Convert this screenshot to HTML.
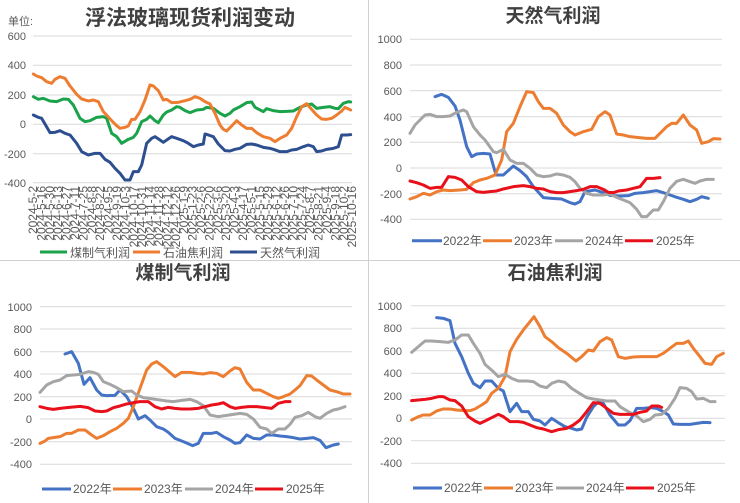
<!DOCTYPE html>
<html><head><meta charset="utf-8"><style>
html,body{margin:0;padding:0;background:#fff;}
svg{display:block;font-family:"Liberation Sans","Noto Sans CJK SC",sans-serif;}
.t{fill:#595959;font-size:11px;}
.ttl{fill:#404040;font-size:19px;font-weight:bold;}
.lg{fill:#595959;font-size:12px;}
.d{fill:#595959;font-size:12px;}
</style></head><body>
<svg width="740" height="503" viewBox="0 0 740 503" xmlns="http://www.w3.org/2000/svg">
<rect width="740" height="503" fill="#fff"/>
<line x1="368.5" y1="0" x2="368.5" y2="503" stroke="#d0d0d0"/>
<line x1="0" y1="260.5" x2="740" y2="260.5" stroke="#d0d0d0"/>

<!-- Chart 1 -->
<text x="190" y="25" text-anchor="middle" class="ttl" style="font-size:21px">浮法玻璃现货利润变动</text>
<text x="8" y="25" class="t">单位:</text>
<g stroke="#d9d9d9" stroke-width="1">
<line x1="33" x2="352" y1="36" y2="36"/><line x1="33" x2="352" y1="65.3" y2="65.3"/><line x1="33" x2="352" y1="95" y2="95"/><line x1="33" x2="352" y1="124.3" y2="124.3"/><line x1="33" x2="352" y1="153.7" y2="153.7"/><line x1="33" x2="352" y1="182.7" y2="182.7"/>
</g>
<g class="t" text-anchor="end">
<text x="26" y="40">600</text><text x="26" y="69">400</text><text x="26" y="99">200</text><text x="26" y="128">0</text><text x="26" y="158">-200</text><text x="26" y="187">-400</text>
</g>
<g class="d" text-anchor="end">
<text transform="translate(37,186) rotate(-90)">2024-5-2</text>
<text transform="translate(45.4,186) rotate(-90)">2024-5-16</text>
<text transform="translate(53.8,186) rotate(-90)">2024-5-30</text>
<text transform="translate(62.2,186) rotate(-90)">2024-6-13</text>
<text transform="translate(70.6,186) rotate(-90)">2024-6-27</text>
<text transform="translate(79,186) rotate(-90)">2024-7-11</text>
<text transform="translate(87.4,186) rotate(-90)">2024-7-25</text>
<text transform="translate(95.8,186) rotate(-90)">2024-8-8</text>
<text transform="translate(104.2,186) rotate(-90)">2024-8-22</text>
<text transform="translate(112.6,186) rotate(-90)">2024-9-5</text>
<text transform="translate(121,186) rotate(-90)">2024-9-19</text>
<text transform="translate(129.4,186) rotate(-90)">2024-10-3</text>
<text transform="translate(137.8,186) rotate(-90)">2024-10-17</text>
<text transform="translate(146.2,186) rotate(-90)">2024-10-31</text>
<text transform="translate(154.6,186) rotate(-90)">2024-11-14</text>
<text transform="translate(163,186) rotate(-90)">2024-11-28</text>
<text transform="translate(171.4,186) rotate(-90)">2024-12-12</text>
<text transform="translate(179.8,186) rotate(-90)">2024-12-26</text>
<text transform="translate(188.2,186) rotate(-90)">2025-1-9</text>
<text transform="translate(196.6,186) rotate(-90)">2025-1-23</text>
<text transform="translate(205,186) rotate(-90)">2025-2-6</text>
<text transform="translate(213.4,186) rotate(-90)">2025-2-20</text>
<text transform="translate(221.8,186) rotate(-90)">2025-3-6</text>
<text transform="translate(230.2,186) rotate(-90)">2025-3-20</text>
<text transform="translate(238.6,186) rotate(-90)">2025-4-3</text>
<text transform="translate(247,186) rotate(-90)">2025-4-17</text>
<text transform="translate(255.4,186) rotate(-90)">2025-5-1</text>
<text transform="translate(263.8,186) rotate(-90)">2025-5-15</text>
<text transform="translate(272.2,186) rotate(-90)">2025-5-29</text>
<text transform="translate(280.6,186) rotate(-90)">2025-6-12</text>
<text transform="translate(289,186) rotate(-90)">2025-6-26</text>
<text transform="translate(297.4,186) rotate(-90)">2025-7-10</text>
<text transform="translate(305.8,186) rotate(-90)">2025-7-24</text>
<text transform="translate(314.2,186) rotate(-90)">2025-8-7</text>
<text transform="translate(322.6,186) rotate(-90)">2025-8-21</text>
<text transform="translate(331,186) rotate(-90)">2025-9-4</text>
<text transform="translate(339.4,186) rotate(-90)">2025-9-18</text>
<text transform="translate(347.8,186) rotate(-90)">2025-10-2</text>
<text transform="translate(356.2,186) rotate(-90)">2025-10-16</text>
</g>
<g transform="scale(0.33333)" fill="none" stroke-width="9" stroke-linejoin="round" stroke-linecap="round">
<polyline stroke="#1aa34a" points="100,290 115,298 130,295 150,303 170,305 190,297 205,298 220,315 240,355 255,365 270,362 290,352 310,350 320,355 335,400 350,410 365,430 385,418 400,412 410,400 425,365 440,358 450,348 465,362 475,368 490,345 500,336 515,330 530,320 540,322 555,332 570,338 590,330 610,328 620,322 640,325 660,340 675,348 690,340 700,330 720,320 740,308 755,306 765,322 790,335 800,326 820,332 840,335 860,334 880,333 900,322 920,315 935,312 950,325 970,322 990,320 1005,325 1015,326 1030,310 1045,305 1052,306"/>
<polyline stroke="#ed7d31" points="100,222 110,228 125,233 140,245 155,250 165,238 180,230 195,235 210,258 230,283 245,297 265,303 280,300 295,305 310,335 335,362 350,377 360,385 375,382 385,378 395,358 405,358 420,335 435,300 450,255 460,258 475,272 490,300 500,298 515,308 535,307 555,302 570,298 585,290 600,295 615,305 630,312 645,340 660,375 670,388 680,393 695,378 710,362 725,375 740,385 755,385 770,398 790,410 810,415 825,425 840,415 860,405 875,385 890,350 905,320 920,311 935,328 950,345 965,357 980,358 995,355 1010,345 1025,333 1035,322 1052,330"/>
<polyline stroke="#2e4f8f" points="100,345 115,352 125,355 135,372 150,398 165,397 180,392 195,400 210,405 230,430 245,455 265,465 285,460 300,460 315,478 330,487 345,505 360,520 375,540 390,540 400,515 415,515 425,495 440,430 455,415 465,410 480,420 490,427 500,420 515,410 530,415 550,422 565,430 580,440 595,435 610,432 615,402 625,405 640,410 655,432 675,452 690,453 705,448 720,445 740,433 755,432 770,435 790,442 810,445 820,448 840,455 860,455 875,450 890,448 910,440 925,435 940,440 950,455 965,453 980,448 1000,445 1015,440 1025,405 1040,405 1052,404"/>
</g>
<g stroke-width="3">
<line x1="40" x2="67" y1="252" y2="252" stroke="#1aa34a"/><line x1="133" x2="160" y1="252" y2="252" stroke="#ed7d31"/><line x1="230" x2="257" y1="252" y2="252" stroke="#2e4f8f"/>
</g>
<g class="lg"><text x="70" y="257">煤制气利润</text><text x="163" y="257">石油焦利润</text><text x="260" y="257">天然气利润</text></g>

<!-- Chart 2 -->
<text x="553" y="22" text-anchor="middle" class="ttl">天然气利润</text>
<g stroke="#d9d9d9"><line x1="410" x2="722" y1="39.3" y2="39.3"/><line x1="410" x2="722" y1="65" y2="65"/><line x1="410" x2="722" y1="90.7" y2="90.7"/><line x1="410" x2="722" y1="116.7" y2="116.7"/><line x1="410" x2="722" y1="142.3" y2="142.3"/><line x1="410" x2="722" y1="168" y2="168"/><line x1="410" x2="722" y1="193.7" y2="193.7"/><line x1="410" x2="722" y1="219.3" y2="219.3"/></g>
<g class="t" text-anchor="end"><text x="402" y="43">1000</text><text x="402" y="69">800</text><text x="402" y="95">600</text><text x="402" y="121">400</text><text x="402" y="146">200</text><text x="402" y="172">0</text><text x="402" y="198">-200</text><text x="402" y="223">-400</text></g>
<g transform="translate(370,0) scale(0.33333)" fill="none" stroke-width="9" stroke-linejoin="round" stroke-linecap="round">
<polyline stroke="#4472c4" points="195,290 215,283 235,292 255,318 270,360 290,440 305,470 320,462 340,460 360,462 378,525 400,525 430,498 450,512 470,530 490,560 520,593 545,595 575,597 600,608 615,612 630,605 645,575 675,570 700,578 720,586 750,588 775,587 795,580 820,578 840,575 860,572 880,578 900,585 920,592 940,598 960,605 980,598 995,590 1015,595"/>
<polyline stroke="#ed7d31" points="120,597 140,590 160,580 180,585 200,575 220,570 240,572 270,570 290,568 310,548 330,540 350,535 375,525 395,480 410,395 430,370 450,320 470,275 490,278 505,305 520,325 540,325 560,340 580,375 600,395 615,405 640,395 665,388 685,350 705,335 720,345 740,402 760,405 780,410 800,412 830,415 855,415 870,400 890,380 905,370 920,370 940,345 960,375 980,390 995,430 1015,425 1030,416 1050,417"/>
<polyline stroke="#a5a5a5" points="120,400 135,375 150,360 165,345 180,343 200,350 220,350 240,348 260,337 280,330 290,335 310,380 330,405 345,420 370,455 380,458 400,448 420,480 440,490 460,490 480,505 500,525 520,530 540,528 560,522 580,525 600,532 615,545 630,565 650,580 670,585 700,585 720,582 740,592 760,600 780,608 800,628 815,650 830,650 850,630 865,630 880,605 900,565 920,544 940,538 960,545 975,550 990,543 1010,538 1030,538"/>
<polyline stroke="#e8101a" points="120,543 140,548 160,555 180,565 200,562 215,562 235,530 255,532 275,540 295,560 320,575 340,577 360,575 380,573 400,567 430,560 460,557 480,560 500,565 520,567 540,575 560,578 580,578 600,575 620,572 640,568 660,560 680,560 700,568 715,577 730,578 745,573 770,570 790,565 810,560 830,535 850,535 870,533"/>
</g>
<g stroke-width="3"><line x1="412" x2="442" y1="240.7" y2="240.7" stroke="#4472c4"/><line x1="483" x2="512" y1="240.7" y2="240.7" stroke="#ed7d31"/><line x1="555" x2="583" y1="240.7" y2="240.7" stroke="#a5a5a5"/><line x1="625" x2="653" y1="240.7" y2="240.7" stroke="#e8101a"/></g>
<g class="lg"><text x="443" y="245">2022年</text><text x="514" y="245">2023年</text><text x="585" y="245">2024年</text><text x="656" y="245">2025年</text></g>

<!-- Chart 3 -->
<text x="183" y="279" text-anchor="middle" class="ttl">煤制气利润</text>
<g stroke="#d9d9d9"><line x1="40" x2="352" y1="306.7" y2="306.7"/><line x1="40" x2="352" y1="329" y2="329"/><line x1="40" x2="352" y1="351.7" y2="351.7"/><line x1="40" x2="352" y1="374" y2="374"/><line x1="40" x2="352" y1="396.7" y2="396.7"/><line x1="40" x2="352" y1="419" y2="419"/><line x1="40" x2="352" y1="441.7" y2="441.7"/><line x1="40" x2="352" y1="464.3" y2="464.3"/></g>
<g class="t" text-anchor="end"><text x="32" y="311">1000</text><text x="32" y="333">800</text><text x="32" y="356">600</text><text x="32" y="378">400</text><text x="32" y="401">200</text><text x="32" y="423">0</text><text x="32" y="446">-200</text><text x="32" y="468">-400</text></g>
<g transform="translate(0,255) scale(0.33333)" fill="none" stroke-width="9" stroke-linejoin="round" stroke-linecap="round">
<polyline stroke="#4472c4" points="195,297 215,290 235,325 252,388 270,368 290,405 305,420 320,422 345,421 360,405 380,425 400,460 415,492 435,482 450,495 470,515 490,522 505,532 525,550 550,560 578,572 595,565 610,535 635,535 650,532 670,545 690,555 705,565 720,563 740,540 760,550 780,552 800,540 820,540 840,543 860,545 880,548 900,552 920,550 940,548 960,556 978,578 1000,570 1015,567"/>
<polyline stroke="#ed7d31" points="120,565 135,558 145,550 165,547 180,545 200,535 215,535 235,525 255,525 275,540 290,550 310,542 330,530 350,520 370,505 385,490 400,455 420,400 440,345 455,327 470,320 490,335 510,352 525,365 545,352 570,352 590,355 610,357 630,353 650,355 670,365 690,348 705,338 720,342 740,382 760,405 780,405 800,415 820,425 835,430 850,425 870,417 885,405 900,392 920,362 935,363 950,375 970,390 990,405 1010,410 1030,417 1050,417"/>
<polyline stroke="#a5a5a5" points="120,412 140,390 160,380 180,375 200,362 220,360 240,358 265,350 280,352 295,358 310,380 330,388 350,398 370,410 395,408 410,420 430,428 460,432 480,435 500,438 520,440 545,436 570,433 590,440 610,452 630,480 655,485 675,482 700,478 720,475 740,478 760,492 780,517 800,522 815,535 835,522 855,522 870,508 885,487 905,482 925,472 945,485 960,490 980,475 1000,465 1015,462 1035,455"/>
<polyline stroke="#e8101a" points="120,455 140,460 160,463 180,460 200,458 220,456 240,454 265,458 285,468 305,470 320,468 340,458 360,453 380,447 400,443 420,440 445,440 465,455 485,462 505,457 525,460 545,462 570,462 595,460 615,455 635,450 655,447 670,443 690,455 705,460 725,457 745,455 770,455 790,457 815,460 835,445 855,440 870,440"/>
</g>
<g stroke-width="3"><line x1="42" x2="71" y1="489" y2="489" stroke="#4472c4"/><line x1="113" x2="142" y1="489" y2="489" stroke="#ed7d31"/><line x1="185" x2="213" y1="489" y2="489" stroke="#a5a5a5"/><line x1="255" x2="283" y1="489" y2="489" stroke="#e8101a"/></g>
<g class="lg"><text x="73" y="493">2022年</text><text x="144" y="493">2023年</text><text x="215" y="493">2024年</text><text x="286" y="493">2025年</text></g>

<!-- Chart 4 -->
<text x="555" y="279" text-anchor="middle" class="ttl">石油焦利润</text>
<g stroke="#d9d9d9"><line x1="411" x2="725" y1="305.7" y2="305.7"/><line x1="411" x2="725" y1="328.3" y2="328.3"/><line x1="411" x2="725" y1="350.7" y2="350.7"/><line x1="411" x2="725" y1="373.3" y2="373.3"/><line x1="411" x2="725" y1="395.7" y2="395.7"/><line x1="411" x2="725" y1="418.3" y2="418.3"/><line x1="411" x2="725" y1="440.7" y2="440.7"/><line x1="411" x2="725" y1="463.3" y2="463.3"/></g>
<g class="t" text-anchor="end"><text x="402" y="310">1000</text><text x="402" y="332">800</text><text x="402" y="355">600</text><text x="402" y="377">400</text><text x="402" y="400">200</text><text x="402" y="422">0</text><text x="402" y="445">-200</text><text x="402" y="467">-400</text></g>
<g transform="translate(370,255) scale(0.33333)" fill="none" stroke-width="9" stroke-linejoin="round" stroke-linecap="round">
<polyline stroke="#4472c4" points="200,188 220,190 240,197 255,265 275,305 295,355 310,385 330,398 345,378 365,378 385,400 400,408 420,470 440,445 455,470 475,470 490,493 510,498 525,510 545,490 565,503 585,515 605,520 620,525 635,522 650,487 670,455 685,440 700,445 720,480 745,510 765,510 780,497 800,460 820,460 840,458 860,460 880,470 895,480 910,507 930,508 960,508 980,505 1000,502 1020,503"/>
<polyline stroke="#ed7d31" points="125,495 145,485 160,480 180,480 200,468 220,462 240,462 260,465 280,467 300,467 315,462 335,450 350,440 365,415 385,400 405,365 420,290 440,253 460,225 480,200 492,185 510,215 525,245 545,260 565,278 590,295 618,318 635,305 655,285 670,288 690,260 710,248 725,255 745,305 765,310 790,306 815,305 840,305 860,305 880,295 900,280 920,265 940,265 955,258 970,280 990,305 1005,325 1025,328 1040,305 1060,295"/>
<polyline stroke="#a5a5a5" points="125,292 145,275 165,258 185,258 210,260 235,262 255,255 275,240 295,240 310,265 330,295 345,328 370,350 385,365 405,358 425,370 445,378 470,378 490,380 510,393 530,398 545,385 565,378 585,382 605,400 625,413 650,428 670,432 690,435 710,438 735,438 750,455 775,470 800,483 820,500 840,493 855,480 875,478 895,460 915,430 930,398 950,400 965,410 980,432 1000,430 1020,440 1035,440"/>
<polyline stroke="#e8101a" points="125,437 145,435 165,433 185,430 205,425 220,425 240,435 255,437 275,453 295,485 315,498 330,505 345,498 365,488 385,478 400,485 420,500 445,500 460,502 480,510 500,518 520,522 545,530 565,524 590,520 610,510 630,495 650,470 670,443 690,445 710,460 730,475 750,478 770,478 790,478 810,472 830,468 845,453 865,453 875,457"/>
</g>
<g stroke-width="3"><line x1="413" x2="442" y1="488" y2="488" stroke="#4472c4"/><line x1="484" x2="513" y1="488" y2="488" stroke="#ed7d31"/><line x1="556" x2="584" y1="488" y2="488" stroke="#a5a5a5"/><line x1="626" x2="654" y1="488" y2="488" stroke="#e8101a"/></g>
<g class="lg"><text x="444" y="492">2022年</text><text x="515" y="492">2023年</text><text x="586" y="492">2024年</text><text x="657" y="492">2025年</text></g>
</svg>
</body></html>
